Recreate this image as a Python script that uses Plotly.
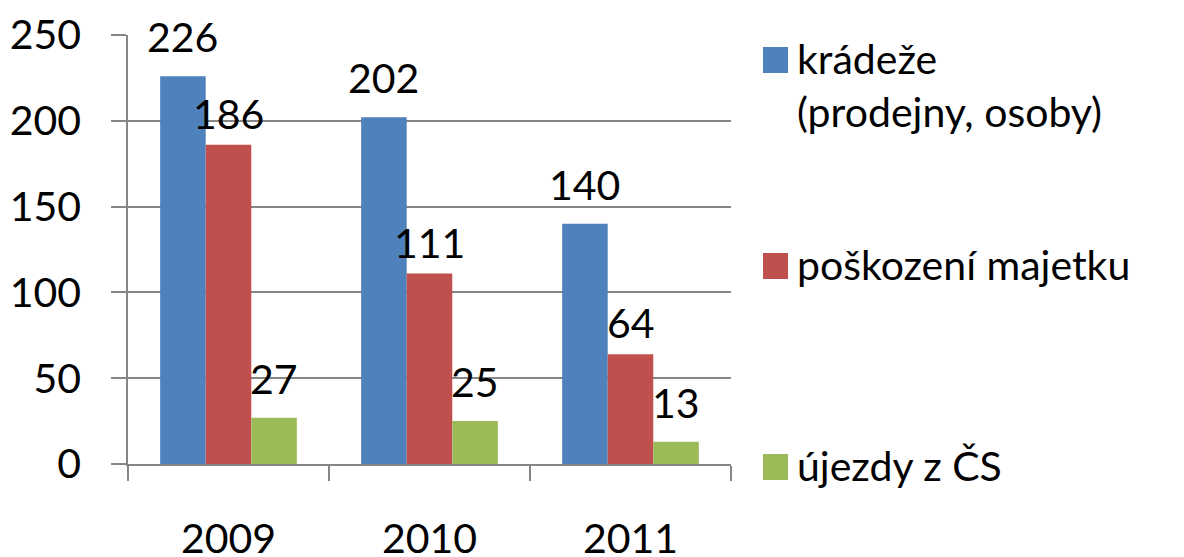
import plotly.graph_objects as go

# data
years = ["2009", "2010", "2011"]
series_names = ["krádeže<br>(prodejny, osoby)", "poškození majetku", "újezdy z ČS"]
kradeze = [226, 202, 140]
poskozeni = [186, 111, 64]
ujezdy = [27, 25, 13]
colors = ["#4F81BD", "#C0504D", "#9BBB59"]

FONT = "Lato"
FS = 41
GRID = "#868686"
BARGAP = 0.32

# the page body has an 8px margin, so work in page pixels and subtract it
OFF = 8
W, H = 1184 - OFF, 557 - OFF
L, T = 128 - OFF, 35 - OFF
R = W - (731 - OFF)
B = H - (464 - OFF)
pw, ph = W - L - R, H - T - B

def px_x(x):
    return (x - OFF - L) / pw

def px_y(y):
    return (H - B - (y - OFF)) / ph

series = [kradeze, poskozeni, ujezdy]
bar_px = pw / len(years) * (1 - BARGAP) / len(series)
label_lift = [13, 5, 13]   # px gap between bar top and its label, per series

fig = go.Figure()
for name, vals, col in zip(series_names, series, colors):
    fig.add_trace(go.Bar(
        x=years, y=vals, name=name,
        marker=dict(color=col, line=dict(width=0)),
        showlegend=False,
    ))

# value labels above the bars (category axis: annotation x is the category index)
for i, vals in enumerate(series):
    for j, v in enumerate(vals):
        fig.add_annotation(x=j, y=v, text=str(v), showarrow=False,
                           xanchor="center", yanchor="bottom",
                           xshift=(i - 1) * bar_px, yshift=label_lift[i],
                           font=dict(family=FONT, size=FS, color="black"))

# legend drawn by hand so the swatches can be large like the original
legend_y = [60, 266, 467]
for name, col, cy in zip(series_names, colors, legend_y):
    fig.add_shape(type="rect", xref="paper", yref="paper",
                  x0=px_x(763), x1=px_x(788), y0=px_y(cy + 13), y1=px_y(cy - 13),
                  fillcolor=col, line=dict(width=0))
    fig.add_annotation(xref="paper", yref="paper", x=px_x(795), y=px_y(cy - 28),
                       xanchor="left", yanchor="top", align="left",
                       text=name, showarrow=False,
                       font=dict(family=FONT, size=FS, color="black"))

fig.update_layout(
    width=W, height=H,
    margin=dict(l=L, r=R, t=T, b=B, autoexpand=False),
    barmode="group", bargap=BARGAP, bargroupgap=0,
    plot_bgcolor="white", paper_bgcolor="white",
    font=dict(family=FONT, size=FS, color="black"),
    showlegend=False,
)
fig.update_xaxes(
    type="category", range=[-0.5, len(years) - 0.5],
    showline=True, linecolor=GRID, linewidth=1.5,
    ticks="outside", tickson="boundaries", ticklen=15, tickcolor=GRID, tickwidth=1.5,
    ticklabelstandoff=38, showgrid=False,
)
fig.update_yaxes(
    range=[0, 250], dtick=50, showline=True, linecolor=GRID, linewidth=1.5,
    ticks="outside", ticklen=15, tickcolor=GRID, tickwidth=1.5,
    gridcolor=GRID, gridwidth=1.5, zeroline=False, ticklabelstandoff=22,
)

fig.write_html("out.html")
